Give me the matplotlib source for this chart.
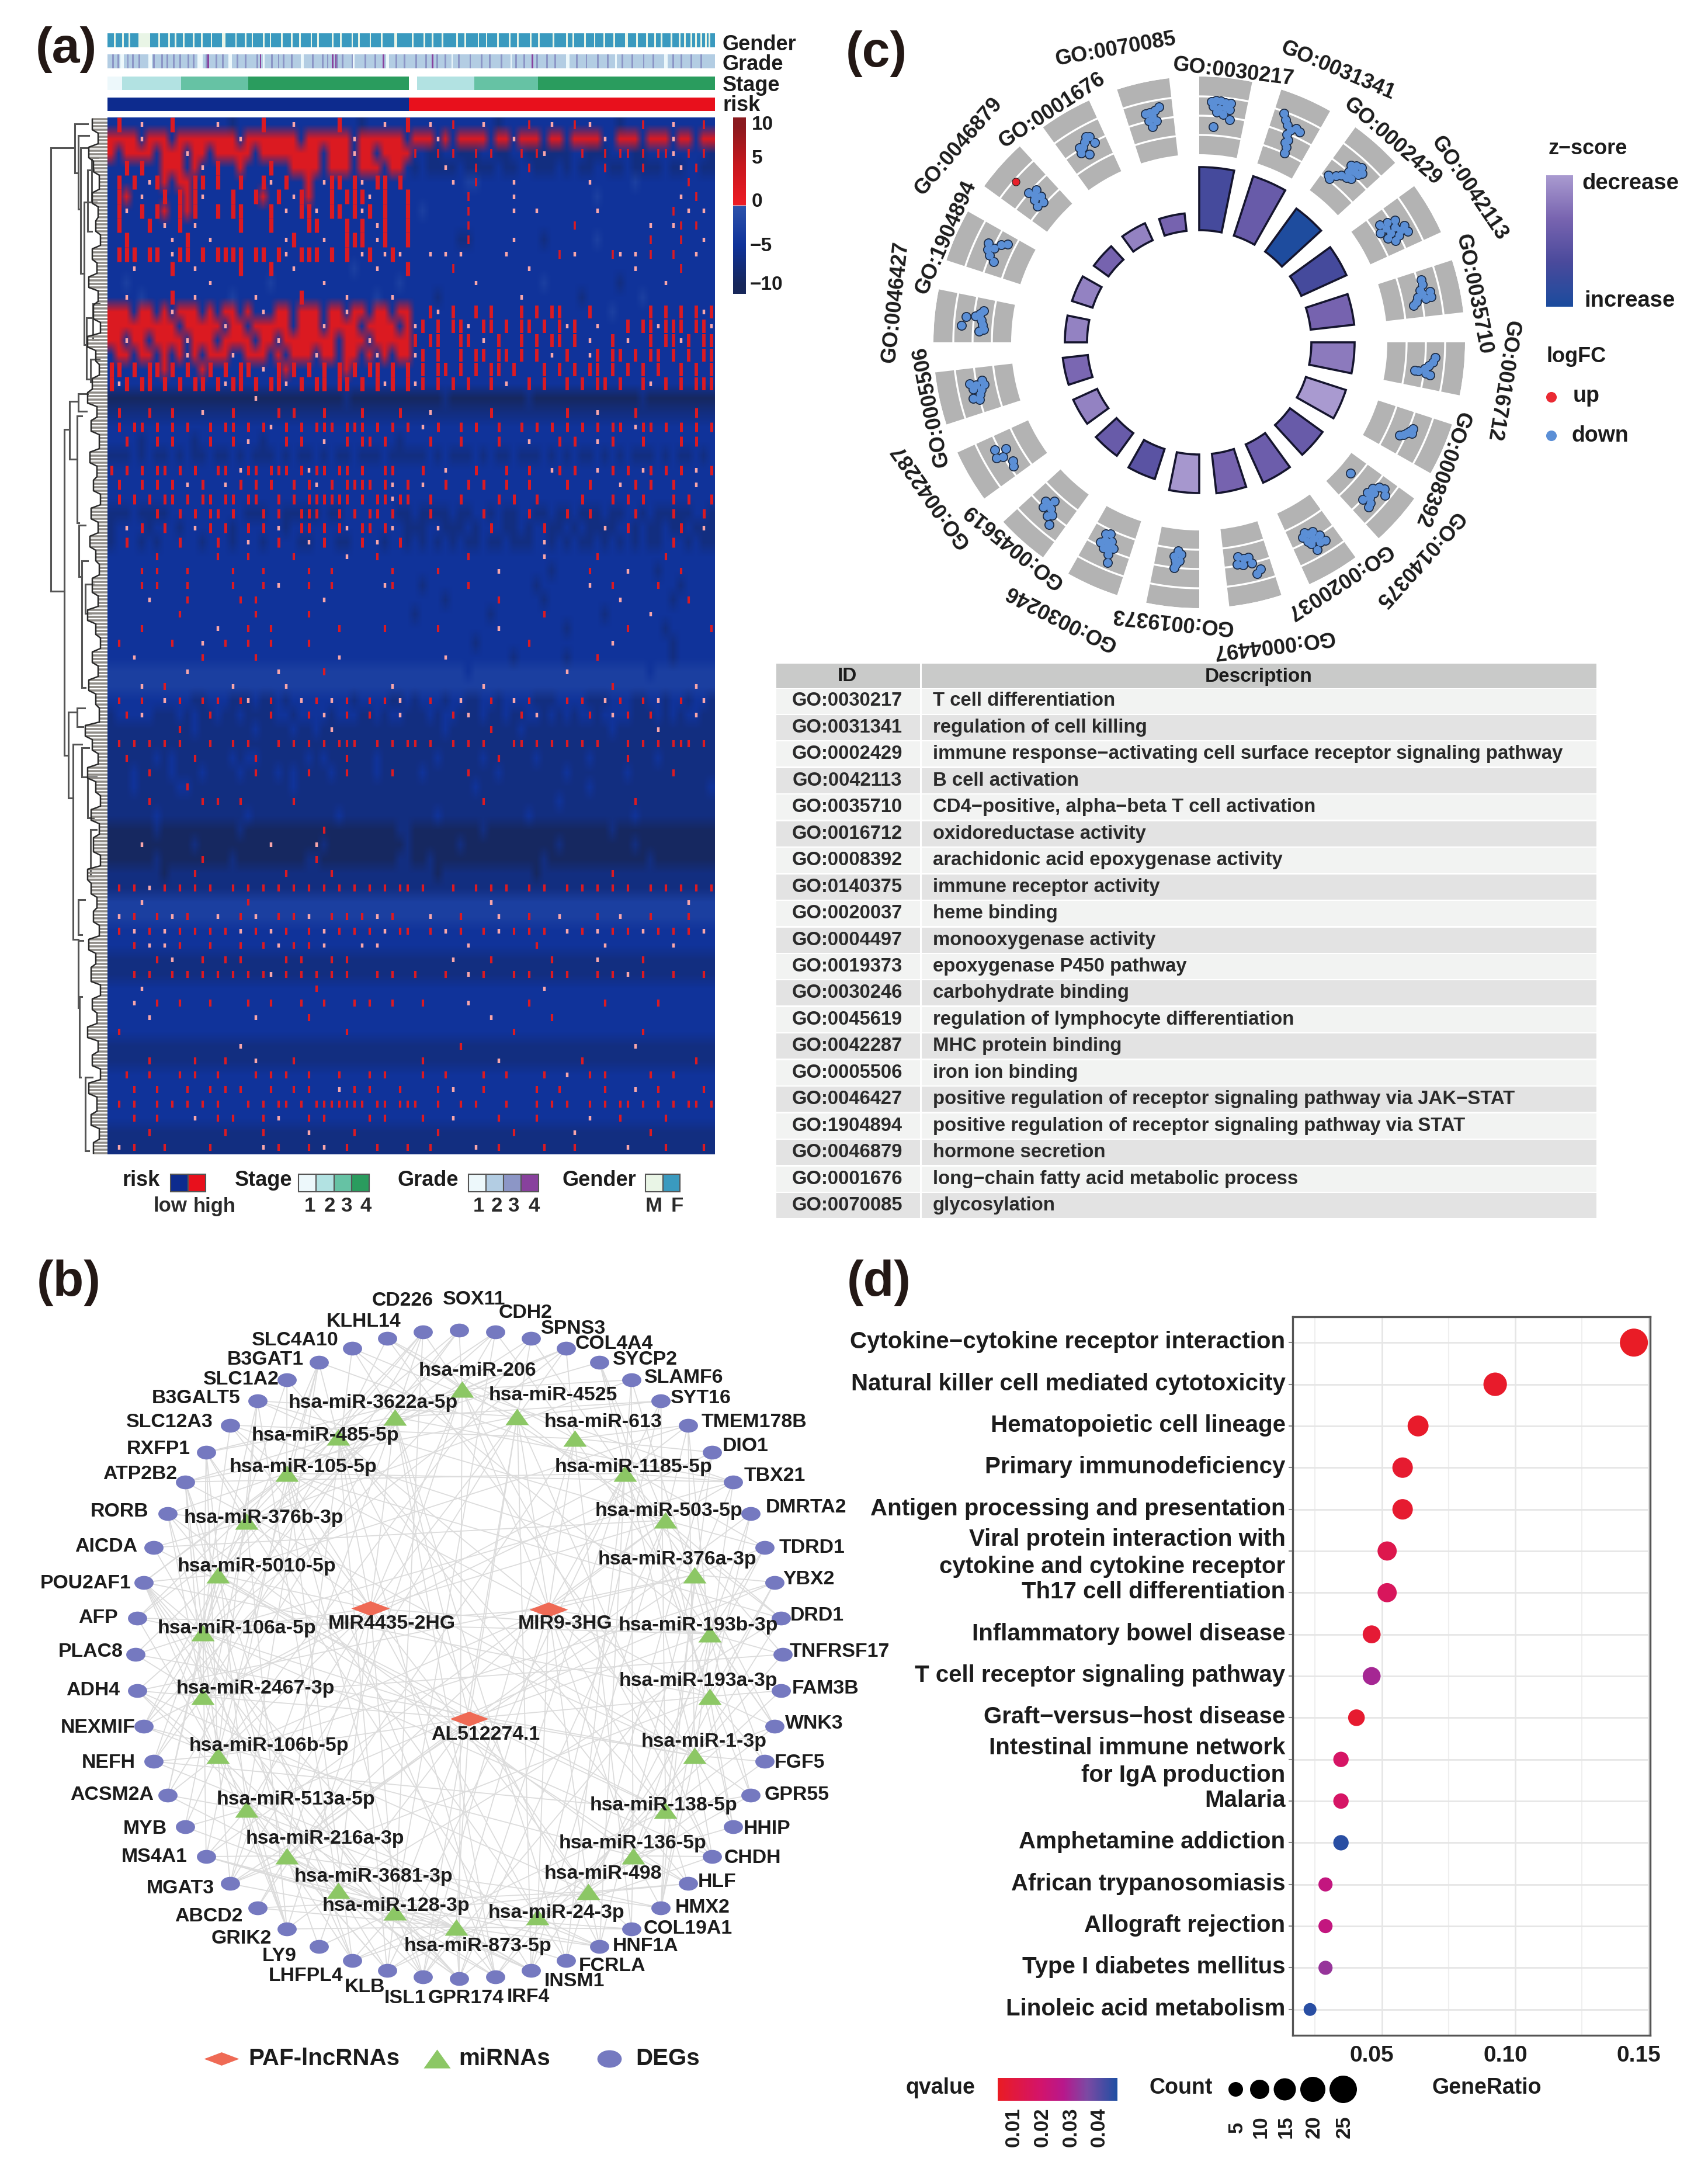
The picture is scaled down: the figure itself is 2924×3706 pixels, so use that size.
import matplotlib
matplotlib.use("Agg")
import matplotlib.pyplot as plt
import numpy as np
from matplotlib.collections import LineCollection
from matplotlib.colors import LinearSegmentedColormap, Normalize, to_rgb
from matplotlib.path import Path
from matplotlib.patches import Rectangle
from matplotlib.transforms import Affine2D, ScaledTranslation

plt.rcParams['font.family'] = ['Liberation Sans', 'DejaVu Sans']
plt.rcParams['font.weight'] = 'bold'

W, H = 2924, 3706
TXT = '#1c1c1c'

# ---------- panel a data: rows of the heatmap, low risk half | high risk half
# # : . , are background levels, R a solid high cell, r and w a single high or near zero sample
cell_levels = {'#': -9.5, ':': -7, '.': -5, ',': -3, 'R': 2.5, 'r': 2.5, 'w': 0}
heat_rows = [
    ".r..w...r.....w.:...r...w.....r..:..w..r ..w..r...w.:...r..w..r.w...:..r...w...r.",
    "RRRRwRRR.RRRRRRRRwRRRRRRR.RRRRRRwRRRRRR. RRRwR.RRRR.RRwRRR.RR.RRRRw.RRR.RRRwRR.RR",
    "R.RRRR.RRRwRR.RRRRR.RRRRRRRR.RRRwRR.RRRR r.:r.r::r.r::.r:rw:::.r::r.rr:r.rrw.r.r:",
    "..r.r..RRR.Rw.r..R...r..RRRR.RRR.RRR.RR. :.::w:.:r::.::.r:::.:.::.r::.:r::.:w.r::",
    ".r.r.wrR.RRrr.r..r..rw.r..R.wrr.rw.rr.r. .....w.,r....w.........w.....,......r...",
    ".rR.w..r.rRrw...r..rR.r.wrR..r.rrrw.r..r .......r.....w..........,..........w.r..",
    ".rw.r.rR.rRr..r.rr...r.w.rrw.rr.rwr.r..r .,.....r.....w..w.......w.........r.w.w.",
    ".r...r.w.r.w.....r...r....rr...r.r.wr..r .......r.............r.........w..wr.r..",
    "..r.....w.r..w.........wr...w..rrr.wr..r ......:r.....w...:......,......r...r..w.",
    ".rrr.rr.wrr.r.rrrr.rr.rw.rrr.r.r.wr.wrw. ..w.w.w.....w......r.w....rw.w.r..r..w..",
    "...w....r..w.....r...r..w.......,..w...r .....r.........w.............w.....r....",
    "..,..........w.......,......w.........,. ........w........,.........:.....w.......",
    "..w.,...r..w....,..w.....r.....w...,.w.. ...:..........w.......:.......,.........",
    "RRR.RR.RwRRR.R.RR.R.w.RR.RRR.RRwRR.RR.RR ..rw.r..r.r...r.r.rr...r..,....r.r.r.rwr",
    "RRRRRRRRR.RRRRRwRR.RRRRR.RRRwRRRR.RRRR.R wr.r.rrw.rr.r.rr.r.rwr..w...r.rrwrrr.rrw",
    "RRwRR.RRRRwRRR.RRRR.RRwRRRRRRR.RRRwRRRRR r.rr..rr.w.r..r.r.rr.r.w..r.w..r.rrwr.rr",
    ".RR.RR.R.RwR.RRRw.RRR.R.RRRwRR.RR.RwR.RR wr.r..r.rr.rr.r.r.w.r..wr.rr.r.rr.r.r.rr",
    "rr.r.rrRr.r.Rr.r.rr.w.rRr.r.r.rRr.rr.r.r .r.rr.r.r.rr.r...r.r.r.rr.r.r.r.r..r.r.r",
    "rwr.rr.r.r.rr.rwrr.r.rrw.r.rr.rr.r.rwr.r wr.r.r.r..r.w..r.r..r.r.rr.r..rw.r.r.rr",
    "###################w###########:######## ####:##########:##############:#########",
    ":r:::r::r:::w:::r:::::r:r:::r::::r::::r: ::w:::::::r:::::::::r:::w::::r:::::::r::",
    ".r.rr.r.r.r..r.rr.r.rw.r.r.rrr.rrr.r.r.r .w.r..r.r..r..r.r.r.r.r.r.rr.wrr.r.r.r.r",
    "..r.:.r.r..:.r..r.w.:..r.r..w..r.rr.r.:. ..r...r....r...w...r.r..w.r...r....r.r..",
    ":::.:.::.:.::.::.:.:::.:.::.:.::.:::.::: ::.:.:::.:.::.:::.:.:.::.:.:.:::.:.::.:.",
    "r.r.r.rr.r.r..rr.wrr.rrr.rwrr.rr.r..rr.. .r..w...r...r..r..wr.r..w.r.r.wr.r.r.w.r",
    ".r..r.r.r.w.r..w.r.r.r..r.rw.r.rrrr.rw.r .w..r..r.r..r..r....r..r...w.r.r..r..w..",
    ".r.r.r.rr.r.rr.rr.rr..r.r.rrrrrr.r.rrwrr ..r...r....r.r..r.....r...r.r.r...r.r..r",
    ":::.::r:.r.r.rr.r.::r.r::rrr.:r.r.rr.r:: .:r::.::.r:.::.r::.:r.:r:.::.r:.::r::.r:",
    ":.w.r:.r.:.w.r.r:.r.r.w:.rr.r.rw.rr.rw.: ::.w:::.:.r.::.:.r::.:.::w:.r:.::.:r.:w:",
    ":.r.:.:..r..:.r.:.w.:.r..:w.r.::.r.w:.r: .:.:.:.::.::.:::.w:.:.::.:.:.:.::.r.:.::",
    "......r.......r...r.....r......w...r.... .......r.........w......r........r......",
    "....r.r...r.....r...r.....r..r.......r.. ...r.......w......:....r....w...:..r....",
    "....r.r...r.....r...r.w...r..r......wr.. .:.....r........:......w..r.....r..:....",
    ".....w....r......r.r........w........... ....:......r.....:.........w......:.r...",
    ".........r.........r......r............. :.........:......r.......:.....w........",
    "....r.........w...r..r........r.....r... ...r.......w........:.......r....:.....r",
    ".r......r...w..r..r..r....r............. ........:......r..........w.......:.....",
    "...w........r......r..........w......... ....w........:......:...r.........:.....",
    ",,,,,,,,,,w,,,,,,,,,,,w,,,,,r,,,,,,,,,,, ,,,,,,,.,,,,,,,,,,,,w,,,,,,,,,,.,,,,,,,,",
    ",,,,w,,r,,,,,,,,w,,,,,,w,,,,,,,,,,,,,w,, ,,,,,,,,,w,,,,,,,,,,,,,,,,r,,,,,,,,,,w,,",
    ".r..r..w.r.:r.r.:rw.:r.:.w.r.w.r:.r.r:w. :.r.:.w::.r:.w.r:::.r.r::w.r.:r.w:.r:.w:",
    ":.r.w.:::.:.:r.::.:::r..:.r.w:.r.:r.:.w: ::.:.r:w:.::.:r.w:.:.:.r:.w.r::r.:.:.w::",
    ":::::::::r:.:::::::.::::.::.:w::::::::: ::::.:::::r:::.:::::::::::.:::::w::::::::",
    ":r:r:r:r:r:::r::r:r:::r:r:r:r:rrr::r:r:r r:r::r:r:r:::rr:r:r:r:r:r:::r:r:r:rrr:r:",
    "::r:::.:.::r::::.:.r::::::.:.::r:::.:::: :::.:::::.:r::::.::::::.::::r:::.:::::::",
    ":::.:r::.:::.::::.:r::.:.:r::.:r:::.:r:: :.:::::r:::.::::::::.:::::::.:::::r:::::",
    ":::.:::::.r:::::::::::::.:::::::::::::: ::::::::.::::::::::::::.:::::::::::::::.:",
    ":::::r::::::r:r::r::::::r::::::::::::::: :::::::::r:::::::::.:::::::::r::::::::::",
    "::::::.:::::::::::.:::::::::::.:::::::: :::.:::::::::::.:::::::::::::.:::::::::",
    "######:##########:##########r#########: #########:################:##############",
    "####w######:#########w#####w:##########: ######:############:#########:###########",
    "######:#####r###:#########:r##########: ##:##############:#############:##########",
    ":::::::#:::r:::::::::::r:::::r::::::::: :::#::::::::::::#:::::::::r::::::::::::::",
    ":r:r:w:r:r:r:r::r:r:r:r:r:r:r:r:r:r:r:r :r:::r::r:r:r::r:r::r:r:r:r:r::r:r:r:r:r",
    ",,,,w,,,,,,,,,,,,,r,,,,,,,,,,,,,,,,,,,, ,,,,,,,,,,w,,,,,,,,,,,,,,,,,,,,,,,,,w,,,,",
    ",w,r,,r,w,r,,,w,,r,w,,r,r,w,,r,r,r,w,r, ,,w,,,r,,,,w,,,r,,,w,,,,r,,w,,,r,,,,r,,,,",
    ".r.w.r.w.r.r.r.r.w.r.w.r..r.w.r.r.r.w.r ..r.w.r..r.w.r.r.r..w.r.w.r.r.w.r.r.r.w.r",
    "...r.w.w.r...r...r..r.w.r.r.w....w.w... .......w........r........w........w.......",
    "::::::r:w:::r::r:r:::::r:r:::r:r::::::: :::::w::::r:::::::r:::::w:::::r::::::::::",
    ":::r:r::r:r:r:r:r:r:rw:r:r:r:r:r:::r:r: r:::r::w:r:::r:r::r:r:::r:r:w:r:::r:::r::",
    "....w......................r............ .................w.......................",
    "...w..r..r...r....r..r...r..r...r.r..r.. .r.....w.......r.........r......r.......",
    ".....w.............w......r............. ..........w.......r......................",
    ".r.............................r........ .............r................r...........",
    ":::::::::::::::::w::::::::::::::::::::: ::::::r::::::::::::::::::::::w:::::::::::",
    ":::::r:::::r:::r:::w::::r:::::::::::::: :r:::::::::w::::::::::r::::::::::::::r:::",
    "..r..r...r.r..r....r.r.r..r...r...r.r...r .r..r....r..r....r..w..r.r.....r..r...",
    "...r..r...r..r.r.r...r..r.r...w.r.r...r. ...r.w...r......r..r.....r...w..r.....r.",
    ".r.r..r.r.r.r.r...r.r.rr.r.rrrrrrr.rr.r r..r..r.r...r...r.r.r..r.r.rr.r.r.r.rr.r.",
    "...r..r....w..r.r...r.w...r.r.....r.r.. .r...w.....r....r......w...r.....r......r",
    ":::::r:::::::::r::::r:::::w:::::r::::::: :::r:::::::::r:::::::w:::::::::r::::::::",
    ":w:r:::r:::::r::::::w:r:::r:w::r:::r:::r ::r:::::w::r:::::r:::r::::::w::::r::::r:",
]

# annotation tracks: samples that differ from the usual class, of 371 samples
n_samples = 371
male_samples = [4, 9, 13, 19, 20, 21, 22, 23, 24, 25, 31, 37, 41, 46, 52, 57, 63, 70, 71, 78, 84, 88, 95, 99, 106,
                112, 117, 124, 128, 137, 142, 149, 153, 160, 167, 175, 176, 186, 193, 198, 204, 213, 218, 226,
                231, 238, 245, 250, 258, 263, 272, 280, 284, 291, 297, 303, 309, 316, 317, 323, 329, 334, 338,
                344, 349, 352, 356, 359, 362, 365, 367]
grade_one = [8, 9, 25, 26, 55, 56, 57, 74, 75, 95, 118, 119, 150, 170, 171, 210, 246, 280, 281, 310, 340, 341]
grade_three = [3, 6, 12, 15, 19, 28, 33, 36, 40, 44, 49, 52, 60, 66, 70, 79, 84, 91, 100, 104, 107, 112, 125, 131,
               134, 140, 143, 149, 157, 163, 176, 181, 188, 194, 201, 206, 214, 221, 228, 233, 240, 249, 254,
               262, 268, 273, 286, 292, 299, 305, 314, 320, 327, 333, 345, 350, 356, 362]
grade_four = [61, 93, 137, 139, 168, 198, 259]
stage_runs = [(1, 9), (2, 36), (3, 41), (4, 98), (0, 5), (2, 35), (3, 39), (4, 108)]
risk_runs = [(0, 184), (1, 187)]
gender_colors = {'M': '#e9f5e6', 'F': '#3a9abf'}
grade_colors = ['#edf8fb', '#b3cde3', '#8c96c6', '#88419d']
stage_colors = ['#ffffff', '#edf8fb', '#b2e2e2', '#66c2a4', '#2a9c5e']
risk_colors = ['#0d2b8e', '#e8101c']

# dendrogram: x, y top, y bottom, x of top child, x of bottom child
dendro = [(87, 253, 1012, 128, 110), (128, 212, 296, 150, 134), (134, 232, 358, 152, 138),
          (138, 253, 468, 150, 144), (144, 346, 590, 157, 148), (150, 291, 396, 160, 157),
          (157, 270, 346, 168, 165), (148, 544, 649, 159, 155), (159, 520, 582, 170, 168),
          (155, 615, 654, 170, 168), (110, 735, 1293, 119, 117), (119, 687, 786, 134, 132),
          (134, 674, 704, 150, 148), (132, 712, 895, 140, 135), (135, 899, 987, 146, 140),
          (140, 960, 1177, 150, 146), (146, 1000, 1050, 160, 155), (117, 1219, 1366, 132, 125),
          (132, 1212, 1244, 145, 142), (125, 1274, 1608, 140, 134), (140, 1280, 1330, 152, 150),
          (134, 1540, 1600, 145, 140), (134, 1610, 1725, 142, 136), (136, 1706, 1844, 140, 138),
          (146, 1844, 1970, 158, 152), (155, 1420, 1500, 165, 160), (150, 1330, 1400, 165, 160)]
leaf_start = [158, 168, 152, 160, 170, 158, 168, 164, 172, 158, 166, 152, 168, 160, 172, 150,
              164, 170, 158, 150, 166, 156, 170, 154, 166, 160, 172, 156, 168, 154, 164, 170,
              158, 168, 150, 164, 172, 158, 168, 152, 164, 170, 146, 158, 168, 150, 164, 172,
              156, 170, 160, 172, 150, 156, 166, 160, 170, 152, 164, 156, 172, 158, 166, 150,
              168, 158, 172, 152, 166, 156, 170, 160]

# ---------- panel b data
deg_names = ['SOX11', 'CDH2', 'SPNS3', 'COL4A4', 'SYCP2', 'SLAMF6', 'SYT16', 'TMEM178B', 'DIO1', 'TBX21',
             'DMRTA2', 'TDRD1', 'YBX2', 'DRD1', 'TNFRSF17', 'FAM3B', 'WNK3', 'FGF5', 'GPR55', 'HHIP',
             'CHDH', 'HLF', 'HMX2', 'COL19A1', 'HNF1A', 'FCRLA', 'INSM1', 'IRF4', 'GPR174', 'ISL1',
             'KLB', 'LHFPL4', 'LY9', 'GRIK2', 'ABCD2', 'MGAT3', 'MS4A1', 'MYB', 'ACSM2A', 'NEFH',
             'NEXMIF', 'ADH4', 'PLAC8', 'AFP', 'POU2AF1', 'AICDA', 'RORB', 'ATP2B2', 'RXFP1', 'SLC12A3',
             'B3GALT5', 'SLC1A2', 'B3GAT1', 'SLC4A10', 'KLHL14', 'CD226']
mirna_names = ['206', '3622a-5p', '4525', '485-5p', '613', '105-5p', '1185-5p', '376b-3p', '503-5p',
               '5010-5p', '376a-3p', '106a-5p', '193b-3p', '2467-3p', '193a-3p', '106b-5p', '1-3p',
               '513a-5p', '138-5p', '216a-3p', '136-5p', '3681-3p', '498', '128-3p', '24-3p', '873-5p']
lnc_names = ['MIR4435-2HG', 'MIR9-3HG', 'AL512274.1']
mir_targets = [[0, 1, 55, 54, 3, 28], [0, 53, 55, 48, 27, 35], [2, 3, 6, 29, 26], [47, 50, 52, 54, 27, 30],
               [1, 3, 7, 8, 29], [44, 46, 51, 49, 0, 31, 27], [5, 7, 9, 6, 28, 25], [46, 48, 50, 45, 37],
               [7, 9, 11, 4, 13, 26], [44, 46, 47, 50, 42, 38], [11, 12, 9, 16, 22],
               [40, 41, 42, 43, 44, 45, 46, 49, 51, 52, 38, 0], [11, 14, 16, 13, 18, 7],
               [40, 41, 39, 44, 42, 46, 47], [12, 15, 16, 19, 17],
               [37, 38, 39, 40, 41, 43, 44, 47, 48, 50], [13, 14, 16, 17, 18, 19, 20, 7, 9],
               [37, 38, 35, 33, 36, 30], [16, 18, 20, 21, 8, 22], [36, 35, 34, 32, 30, 28],
               [21, 19, 20, 22, 23, 12], [32, 33, 29, 30, 27, 28, 36], [21, 22, 23, 24, 25, 17],
               [27, 28, 29, 30, 26, 31, 32], [24, 25, 26, 27, 28, 20], [27, 28, 29, 30, 26, 31, 25, 33]]
mir_far_targets = [[5, 9, 48, 20, 33, 40], [3, 6, 9, 43, 25, 38], [50, 53, 47, 20, 13, 35], [1, 4, 44, 21, 24, 39],
                   [49, 54, 11, 34, 16, 23], [3, 9, 13, 29, 36, 43, 52], [47, 52, 14, 24, 30, 18],
                   [5, 2, 33, 40, 26, 55], [50, 54, 19, 28, 36, 45], [1, 7, 39, 31, 21, 55],
                   [49, 2, 24, 35, 41, 17], [3, 9, 31, 29, 33, 36, 20], [53, 5, 29, 22, 43],
                   [8, 14, 33, 28, 48, 55], [4, 10, 26, 35, 44], [2, 12, 28, 31, 33, 35, 52],
                   [54, 4, 22, 27, 42, 47], [48, 52, 26, 24, 12], [6, 51, 31, 39, 45], [47, 53, 26, 22, 10],
                   [10, 46, 30, 40, 5], [44, 50, 24, 13, 41], [11, 49, 34, 41, 8],
                   [1, 44, 36, 38, 21, 23, 55], [6, 18, 39, 48, 15], [44, 37, 36, 24, 23, 35, 34]]
lnc_targets = [[1, 3, 5, 7, 9, 11, 13, 15, 17, 19, 21, 23, 0, 8, 12, 2, 6, 16, 24],
               [0, 2, 4, 6, 8, 10, 12, 14, 16, 18, 20, 22, 24, 3, 25, 5, 11, 15, 19],
               [11, 15, 16, 12, 14, 19, 21, 25, 23, 22, 2, 1, 9, 13, 18]]

# layout of panel b, in crop coordinates
deg_label_pos = [(860, 75), (953, 98), (1040, 126), (1114, 152), (1170, 179), (1240, 210), (1271, 245),
                 (1367, 287), (1352, 328), (1405, 380), (1462, 434), (1473, 504), (1467, 558), (1482, 620),
                 (1523, 683), (1497, 746), (1476, 807), (1450, 874), (1445, 930), (1391, 988), (1365, 1039),
                 (1300, 1080), (1274, 1125), (1248, 1161), (1171, 1191), (1110, 1225), (1042, 1252),
                 (958, 1279), (845, 1281), (735, 1281), (661, 1262), (555, 1242), (507, 1208), (438, 1178),
                 (379, 1140), (327, 1091), (280, 1037), (263, 988), (203, 930), (197, 874), (178, 814),
                 (169, 750), (164, 683), (178, 625), (155, 565), (193, 502), (217, 441), (254, 377),
                 (287, 333), (308, 287), (356, 245), (437, 213), (481, 179), (535, 146), (659, 113), (730, 77)]
mir_pos = [(838, 230), (716, 278), (938, 277), (613, 313), (1042, 315), (520, 375), (1133, 375), (447, 458),
           (1207, 456), (395, 550), (1260, 550), (368, 650), (1287, 652), (368, 760), (1287, 760), (395, 862),
           (1260, 862), (447, 955), (1207, 957), (520, 1035), (1148, 1035), (613, 1095), (1067, 1097),
           (716, 1132), (975, 1140), (827, 1158)]
mir_label_pos = [(866, 198), (677, 254), (1003, 240), (590, 310), (1094, 287), (550, 364), (1149, 364),
                 (478, 452), (1213, 440), (466, 536), (1228, 524), (430, 643), (1266, 638), (463, 746),
                 (1266, 733), (488, 845), (1277, 838), (536, 938), (1203, 948), (589, 1006), (1147, 1014),
                 (677, 1071), (1094, 1066), (718, 1121), (1009, 1134), (867, 1191)]
lnc_pos = [(672, 608), (995, 610), (851, 798)]
lnc_label_pos = [(711, 635), (1025, 635), (881, 826)]

# ---------- panel c data
go_ids = ['GO:0030217', 'GO:0031341', 'GO:0002429', 'GO:0042113', 'GO:0035710', 'GO:0016712', 'GO:0008392',
          'GO:0140375', 'GO:0020037', 'GO:0004497', 'GO:0019373', 'GO:0030246', 'GO:0045619', 'GO:0042287',
          'GO:0005506', 'GO:0046427', 'GO:1904894', 'GO:0046879', 'GO:0001676', 'GO:0070085']
go_desc = ['T cell differentiation', 'regulation of cell killing',
           'immune response\u2212activating cell surface receptor signaling pathway', 'B cell activation',
           'CD4\u2212positive, alpha\u2212beta T cell activation', 'oxidoreductase activity',
           'arachidonic acid epoxygenase activity', 'immune receptor activity', 'heme binding',
           'monooxygenase activity', 'epoxygenase P450 pathway', 'carbohydrate binding',
           'regulation of lymphocyte differentiation', 'MHC protein binding', 'iron ion binding',
           'positive regulation of receptor signaling pathway via JAK\u2212STAT',
           'positive regulation of receptor signaling pathway via STAT', 'hormone secretion',
           'long\u2212chain fatty acid metabolic process', 'glycosylation']
bar_height = [108, 107, 91, 85, 75, 74, 72, 69, 72, 68, 66, 54, 48, 45, 43, 38, 37, 31, 32, 30]
bar_z = [.3, .55, .02, .3, .65, .8, 1., .55, .58, .65, .98, .45, .55, .85, .68, .85, .85, .65, .85, .65]
# genes of each term: across the sector, along logFC
go_genes = [
    [(.25, .68), (.35, .7), (.45, .7), (.55, .68), (.65, .68), (.3, .62), (.42, .6), (.55, .62), (.65, .6),
     (.38, .55), (.52, .53), (.68, .47), (.33, .36)],
    [(.2, .72), (.28, .65), (.35, .6), (.45, .55), (.55, .6), (.65, .58), (.42, .48), (.5, .42), (.52, .33),
     (.55, .25), (.45, .38)],
    [(.3, .35), (.38, .4), (.5, .42), (.6, .45), (.45, .5), (.55, .55), (.65, .55), (.5, .62), (.6, .65),
     (.7, .6), (.15, .3), (.22, .27), (.4, .58)],
    [(.25, .35), (.3, .45), (.4, .4), (.48, .5), (.55, .42), (.6, .55), (.68, .5), (.7, .62), (.75, .42),
     (.62, .35), (.35, .55), (.55, .62), (.42, .3)],
    [(.2, .55), (.3, .55), (.42, .5), (.48, .62), (.5, .52), (.55, .45), (.62, .55), (.65, .42), (.72, .38),
     (.6, .62)],
    [(.32, .62), (.42, .6), (.5, .55), (.58, .5), (.65, .42), (.65, .38), (.68, .52), (.7, .58)],
    [(.35, .55), (.42, .52), (.48, .5), (.55, .47), (.6, .42), (.45, .56)],
    [(.2, .62), (.3, .68), (.25, .55), (.35, .5), (.42, .55), (.5, .48), (.55, .55), (.62, .6), (.68, .5),
     (.72, .62), (.42, .15)],
    [(.3, .6), (.35, .5), (.42, .58), (.5, .5), (.55, .42), (.45, .42), (.6, .55), (.65, .5), (.7, .42),
     (.55, .65), (.62, .38)],
    [(.25, .6), (.35, .65), (.4, .5), (.45, .42), (.55, .42), (.6, .5), (.68, .38), (.72, .48)],
    [(.52, .45), (.45, .4), (.55, .5), (.58, .35), (.42, .32), (.5, .28), (.55, .4)],
    [(.4, .65), (.45, .55), (.5, .5), (.55, .42), (.6, .5), (.65, .4), (.7, .32), (.6, .3), (.5, .38),
     (.45, .45), (.72, .45), (.4, .45)],
    [(.3, .62), (.38, .5), (.45, .55), (.5, .45), (.6, .42), (.55, .35), (.65, .5), (.7, .42)],
    [(.2, .45), (.3, .42), (.5, .5), (.55, .58), (.62, .42), (.72, .55)],
    [(.3, .5), (.35, .58), (.4, .48), (.5, .45), (.55, .55), (.62, .5), (.68, .58), (.7, .42), (.6, .4)],
    [(.25, .42), (.3, .36), (.4, .38), (.5, .4), (.58, .48), (.65, .42), (.72, .38), (.55, .6), (.35, .65)],
    [(.3, .42), (.4, .5), (.5, .55), (.58, .48), (.62, .58), (.72, .42), (.8, .35)],
    [(.35, .3), (.42, .38), (.5, .42), (.58, .35), (.62, .45), (.45, .5), (.52, .28)],
    [(.35, .45), (.45, .5), (.55, .55), (.62, .6), (.68, .58), (.72, .48), (.5, .38), (.38, .52)],
    [(.55, .55), (.62, .62), (.5, .6), (.45, .5), (.5, .42), (.62, .48), (.72, .65), (.42, .6)],
]
up_genes = [(17, .45, .72)]
go_label_pos = [(2111, 123), (2290, 121), (2384, 242), (2515, 322), (2523, 504), (2573, 652), (2469, 803),
                (2430, 957), (2292, 995), (2180, 1102), (2007, 1063), (1816, 1057), (1735, 935), (1594, 849),
                (1594, 696), (1533, 517), (1619, 407), (1641, 251), (1801, 189), (1910, 84)]
go_label_rot = [-7, -23, -41, -56, -79, -99, -111, -132, -147, -173, 174, 153, 141, 125, 101, 84, 66, 49, 33, 10]

# ---------- panel d data
kegg_terms = ['Cytokine\u2212cytokine receptor interaction', 'Natural killer cell mediated cytotoxicity',
              'Hematopoietic cell lineage', 'Primary immunodeficiency', 'Antigen processing and presentation',
              'Viral protein interaction with\ncytokine and cytokine receptor', 'Th17 cell differentiation',
              'Inflammatory bowel disease', 'T cell receptor signaling pathway', 'Graft\u2212versus\u2212host disease',
              'Intestinal immune network\nfor IgA production', 'Malaria', 'Amphetamine addiction',
              'African trypanosomiasis', 'Allograft rejection', 'Type I diabetes mellitus',
              'Linoleic acid metabolism']
gene_ratio = [.1445, .0925, .0636, .0578, .0578, .052, .052, .0462, .0462, .0405, .0347, .0347, .0347,
              .0289, .0289, .0289, .0231]
gene_count = [25, 16, 11, 10, 10, 9, 9, 8, 8, 7, 6, 6, 6, 5, 5, 5, 4]
qvalue = [.005, .006, .006, .007, .007, .013, .016, .008, .03, .007, .018, .018, .045, .024, .024, .032, .045]


def px_axes(x0, y0, x1, y1, **kw):
    return fig.add_axes([x0 / W, 1 - y1 / H, (x1 - x0) / W, (y1 - y0) / H], **kw)


fig = plt.figure(figsize=(W / 100, H / 100), dpi=100, facecolor='white')

# overlay in pixels for the labels, the table and the network
ov = px_axes(0, 0, W, H)
ov.set_xlim(0, W)
ov.set_ylim(H, 0)
ov.axis('off')

for lab, x, y in [('(a)', 113, 85), ('(b)', 118, 2196), ('(c)', 1500, 92), ('(d)', 1505, 2196)]:
    ov.text(x, y, lab, fontsize=62, ha='center', va='center', color='#231815')

# ---------- panel a
hm_x0, hm_x1, hm_y0, hm_y1 = 184, 1224, 201, 1976
heat_cmap = LinearSegmentedColormap.from_list('heat', [
    (0, '#17275a'), (.25, '#10339a'), (.495, '#2d52ab'), (.5, '#ffffff'), (.505, '#ee1c25'),
    (.75, '#c8181e'), (1, '#8b1a1f')])
heat_norm = Normalize(-10, 10)

background = []
single_cells = []
for i, row in enumerate(heat_rows):
    low, high = row.split(' ')
    codes = low.ljust(40, low[-1])[:40] + high.ljust(40, high[-1])[:40]
    levels = []
    last = -5
    for j, c in enumerate(codes):
        if c in 'rw':
            single_cells.append((i, j, cell_levels[c]))
            levels.append(last)
        else:
            if c != 'R':
                last = cell_levels[c]
            levels.append(cell_levels[c])
    background.append(levels)
background = np.array(background)

ax_hm = px_axes(hm_x0, hm_y0, hm_x1, hm_y1)
ax_hm.imshow(heat_cmap(heat_norm(background)), aspect='auto', interpolation='bilinear')
nrow, ncol = background.shape
for i, j, v in single_cells:
    if v == 0:
        half, lw, z = .16, 3.2, 3
    elif i < 19 and j < 40:
        half, lw, z = .5, 5.2, 2
    elif i < 13:
        half, lw, z = .3, 2.6, 2
    elif i < 19:
        half, lw, z = .45, 4.2, 2
    elif i < 30:
        half, lw, z = .34, 3.6, 2
    else:
        half, lw, z = .24, 3, 2
    ax_hm.plot([j, j], [i - half, i + half], color=heat_cmap(heat_norm(v)), lw=lw, solid_capstyle='butt', zorder=z)
ax_hm.set_xlim(-.5, ncol - .5)
ax_hm.set_ylim(nrow - .5, -.5)
ax_hm.axis('off')


def track(y0, y1, colors):
    a = px_axes(hm_x0, y0, hm_x1, y1)
    a.imshow(np.array([[to_rgb(c) for c in colors]]), aspect='auto', interpolation='nearest')
    a.axis('off')


gender_track = [gender_colors['M' if s in male_samples else 'F'] for s in range(n_samples)]
grade_track = []
for s in range(n_samples):
    g = 0 if s in grade_one else 2 if s in grade_three else 3 if s in grade_four else 1
    grade_track.append(grade_colors[g])
track(57, 81, gender_track)
track(93, 117, grade_track)
track(131, 154, [stage_colors[s] for s, n in stage_runs for _ in range(n)])
track(167, 190, [risk_colors[s] for s, n in risk_runs for _ in range(n)])
for name, y in [('Gender', 76), ('Grade', 111), ('Stage', 147), ('risk', 180)]:
    ov.text(1237, y, name, fontsize=26, va='center', color=TXT)

# dendrogram
for x, yt, yb, xt, xb in dendro:
    ov.plot([xt, x, x, xb], [yt, yt, yb, yb], color='#555555', lw=2.2, solid_joinstyle='miter')
leaf_y = np.arange(hm_y0 + 3, hm_y1, 6.0)
band = ((leaf_y - hm_y0) / (hm_y1 - hm_y0) * len(leaf_start)).astype(int)
leaf_x = np.array(leaf_start)[band]
ov.add_collection(LineCollection([[(lx, ly), (hm_x0, ly)] for lx, ly in zip(leaf_x, leaf_y)],
                                 colors='#8f8c87', linewidths=2.6))
ov.plot(leaf_x, leaf_y, color='#2a2a2a', lw=1.8)

# colorbar of the heatmap
ax_cb = px_axes(1255, 201, 1277, 503)
ax_cb.imshow(np.linspace(11, -11, 400).reshape(-1, 1), cmap=heat_cmap, norm=heat_norm, aspect='auto')
ax_cb.axis('off')
for t, y in [('10', 214), ('5', 271), ('0', 346), ('\u22125', 421), ('\u221210', 488)]:
    ov.text(1284 if t[0] == '\u2212' else 1287, y, t, fontsize=24, va='center', color=TXT)

# legend row under the heatmap
for name, xl, x0, x1, cols, labs, xs in [
    ('risk', 209, 292, 352, risk_colors, ['low', 'high'], [292, 367]),
    ('Stage', 402, 511, 632, stage_colors[1:], list('1234'), [530, 564, 593, 626]),
    ('Grade', 680, 802, 922, grade_colors, list('1234'), [819, 850, 879, 914]),
    ('Gender', 963, 1105, 1164, list(gender_colors.values()), list('MF'), [1119, 1159]),
]:
    ov.text(xl, 2021, name, fontsize=26, va='center', color=TXT)
    dx = (x1 - x0) / len(cols)
    for i, c in enumerate(cols):
        ov.add_patch(Rectangle((x0 + i * dx, 2010), dx, 30, fc=c, ec='#555555', lw=1.5))
    for t, x in zip(labs, xs):
        ov.text(x, 2065, t, fontsize=25, ha='center', va='center', color='#2a2a2a')

# ---------- panel b
bx = lambda x: x * .944
by = lambda y: 2150 + .992 * y
ang = np.radians(np.arange(len(deg_names)) * 360 / len(deg_names))
deg_xy = np.c_[786 + 554 * np.sin(ang), 2832 - 555 * np.cos(ang)]
mir_xy = np.array([(bx(x), by(y)) for x, y in mir_pos])
lnc_xy = np.array([(bx(x), by(y)) for x, y in lnc_pos])

edges = []
for i, targets in enumerate(mir_targets):
    edges += [[mir_xy[i], deg_xy[t]] for t in targets + mir_far_targets[i]]
for i, targets in enumerate(lnc_targets):
    edges += [[lnc_xy[i], mir_xy[t]] for t in targets]
ov.add_collection(LineCollection(edges, colors='#dcdcdc', linewidths=1.3))

ell = Path.unit_circle().transformed(Affine2D().scale(1, .72))
dia = Path([(-1, 0), (0, .38), (1, 0), (0, -.38), (-1, 0)], closed=True)
tri = Path([(-1, -.7), (1, -.7), (0, .7), (-1, -.7)], closed=True)
ov.scatter(deg_xy[:, 0], deg_xy[:, 1], marker=ell, s=560, color='#7579c0', lw=0, zorder=3)
ov.scatter(mir_xy[:, 0], mir_xy[:, 1], marker=tri, s=830, color='#8cc765', lw=0, zorder=3)
ov.scatter(lnc_xy[:, 0], lnc_xy[:, 1], marker=dia, s=2260, color='#ef6a55', lw=0, zorder=3)

lab_fs = 24.4
for n, (x, y) in zip(deg_names, deg_label_pos):
    ov.text(bx(x), by(y), n, fontsize=lab_fs, ha='center', va='center', color=TXT, zorder=4)
for n, (x, y) in zip(mirna_names, mir_label_pos):
    ov.text(bx(x), by(y), 'hsa-miR-' + n, fontsize=lab_fs, ha='center', va='center', color=TXT, zorder=4)
for n, (x, y) in zip(lnc_names, lnc_label_pos):
    ov.text(bx(x), by(y), n, fontsize=lab_fs, ha='center', va='center', color=TXT, zorder=4)

ov.scatter([bx(402)], [by(1385)], marker=dia, s=1870, color='#ef6a55', lw=0)
ov.scatter([bx(792)], [by(1385)], marker=tri, s=1100, color='#8cc765', lw=0)
ov.scatter([bx(1105)], [by(1385)], marker=ell, s=900, color='#7579c0', lw=0)
for t, x in [('PAF-lncRNAs', 450), ('miRNAs', 832), ('DEGs', 1153)]:
    ov.text(bx(x), by(1385), t, fontsize=29, va='center', color=TXT)

# ---------- panel c
cx, cy, R = 2053, 586, 455
ax_c = px_axes(cx - R, cy - R, cx + R, cy + R, projection='polar')
ax_c.set_theta_zero_location('N')
ax_c.set_theta_direction(-1)
ax_c.set_ylim(0, R)
ax_c.axis('off')
ax_c.patch.set_alpha(0)
z_cmap = LinearSegmentedColormap.from_list('z', ['#1b4c9e', '#4a4a9c', '#7864b0', '#a99ad0'])
step, width = np.radians(18), np.radians(11.5)
start = np.arange(20) * step
ax_c.bar(start, [133] * 20, width=width, bottom=322, align='edge', color='#b3b3b3', lw=0)
ax_c.bar(start, bar_height, width=width, bottom=192, align='edge', color=z_cmap(bar_z), edgecolor='#15152e', lw=2.6)
for s in start:
    for r in (355, 388, 421):
        ax_c.plot(np.linspace(s, s + width, 12), [r] * 12, color='white', lw=2.4)
for i, genes in enumerate(go_genes):
    gx = [start[i] + u * width for u, v in genes]
    gy = [322 + 133 * v for u, v in genes]
    ax_c.scatter(gx, gy, s=150, color='#1a2a44', lw=0, zorder=3)
    ax_c.scatter(gx, gy, s=95, color='#5b8fd6', lw=0, zorder=4)
for i, u, v in up_genes:
    ax_c.scatter([start[i] + u * width], [322 + 133 * v], s=90, color='#e8202a', ec='#222222', lw=.8, zorder=4)

for g, (x, y), rot in zip(go_ids, go_label_pos, go_label_rot):
    ov.text(x, y, g, fontsize=26, rotation=rot, rotation_mode='anchor', ha='center', va='center', color=TXT)

ax_z = px_axes(2647, 300, 2693, 525)
ax_z.imshow(np.linspace(1, 0, 200).reshape(-1, 1), cmap=z_cmap, aspect='auto')
ax_z.axis('off')
for t, x, y, fs in [('z\u2212score', 2650, 254, 26), ('decrease', 2708, 314, 27.5), ('increase', 2712, 515, 27.5),
                    ('logFC', 2647, 610, 26), ('up', 2693, 678, 27), ('down', 2691, 746, 27)]:
    ov.text(x, y, t, fontsize=fs, va='center', color=TXT)
ov.scatter([2656, 2656], [680, 746], s=170, color=['#ea2a33', '#5b8fd6'], lw=0)

# table
tb_x0, tb_mid, tb_x1 = 1329, 1575, 2733
ov.add_patch(Rectangle((tb_x0, 1136), tb_mid - tb_x0, 42, fc='#c9cac9', lw=0))
ov.add_patch(Rectangle((tb_mid + 3, 1136), tb_x1 - tb_mid - 3, 42, fc='#c9cac9', lw=0))
ov.text(1450, 1158, 'ID', fontsize=24, ha='center', va='center', color=TXT)
ov.text(2155, 1158, 'Description', fontsize=24, ha='center', va='center', color=TXT)
for i, (g, d) in enumerate(zip(go_ids, go_desc)):
    y = 1200 + i * 45.45
    col = '#f2f3f2' if i % 2 == 0 else '#e3e3e3'
    ov.add_patch(Rectangle((tb_x0, y - 21.5), tb_mid - tb_x0, 43, fc=col, lw=0))
    ov.add_patch(Rectangle((tb_mid + 3, y - 21.5), tb_x1 - tb_mid - 3, 43, fc=col, lw=0))
    ov.text(1450, y, g, fontsize=23.6, ha='center', va='center', color='#2a2a2a')
    ov.text(1597, y, d, fontsize=23.7, ha='left', va='center', color='#2a2a2a')

# ---------- panel d
q_cmap = LinearSegmentedColormap.from_list('q', [(0, '#ea1c24'), (.35, '#d4146a'), (.55, '#b8188c'),
                                                 (.75, '#7c4aa4'), (1, '#1f4fa3')])
q_norm = Normalize(.0044, .0462)
dot_d = lambda c: np.interp(c, [4, 10, 25], [22, 35, 48]) * .72
ax_d = px_axes(2213, 2254, 2825, 3484)
ypos = np.arange(len(kegg_terms))[::-1] + 1
ax_d.scatter(gene_ratio, ypos, s=dot_d(np.array(gene_count)) ** 2, c=qvalue, cmap=q_cmap, norm=q_norm, lw=0, zorder=3)
ax_d.set_xlim(.0166, .1506)
ax_d.set_ylim(.38, 17.62)
ax_d.set_xticks([.05, .10, .15])
ax_d.set_xticklabels(['0.05', '0.10', '0.15'], fontsize=28, color=TXT)
ax_d.set_xticks([.025, .075, .125], minor=True)
ax_d.set_yticks(ypos)
ax_d.set_yticklabels(kegg_terms, fontsize=29, color=TXT, linespacing=1.3)
ax_d.grid(True, which='major', color='#e6e6e6', lw=2)
ax_d.grid(True, which='minor', axis='x', color='#efefef', lw=1.5)
ax_d.set_axisbelow(True)
ax_d.tick_params(axis='y', length=5, width=1.5, pad=4, color='#888888')
ax_d.tick_params(axis='x', which='major', length=0, pad=12)
ax_d.tick_params(axis='x', which='minor', length=0)
for s in ax_d.spines.values():
    s.set_color('#555555')
    s.set_linewidth(2.4)
shift_x = ScaledTranslation(-17 / 100, 0, fig.dpi_scale_trans)
for l in ax_d.get_xticklabels():
    l.set_transform(l.get_transform() + shift_x)
shift_y = ScaledTranslation(0, 5 / 100, fig.dpi_scale_trans)
for l in ax_d.get_yticklabels():
    l.set_transform(l.get_transform() + shift_y)

ax_q = px_axes(1708, 3557, 1913, 3596)
ax_q.imshow(np.linspace(.0044, .0462, 200).reshape(1, -1), cmap=q_cmap, norm=q_norm, aspect='auto')
ax_q.axis('off')
for t, x in [('0.01', 1735), ('0.02', 1784), ('0.03', 1833), ('0.04', 1881)]:
    ov.text(x, 3641, t, fontsize=25, rotation=90, ha='center', va='center', color=TXT)
ov.text(1610, 3574, 'qvalue', fontsize=27, ha='center', va='center', color=TXT)
ov.text(2022, 3574, 'Count', fontsize=27, ha='center', va='center', color=TXT)
ov.text(2545, 3574, 'GeneRatio', fontsize=27, ha='center', va='center', color=TXT)
for c, d, x in zip([5, 10, 15, 20, 25], [25, 33, 38, 43, 47], [2115, 2156, 2199, 2247, 2299]):
    ov.scatter([x], [3576], s=(d * .72) ** 2, color='black', lw=0)
    ov.text(x + 2, 3641, str(c), fontsize=25, rotation=90, ha='center', va='center', color=TXT)

fig.savefig('out.png', dpi=100)
